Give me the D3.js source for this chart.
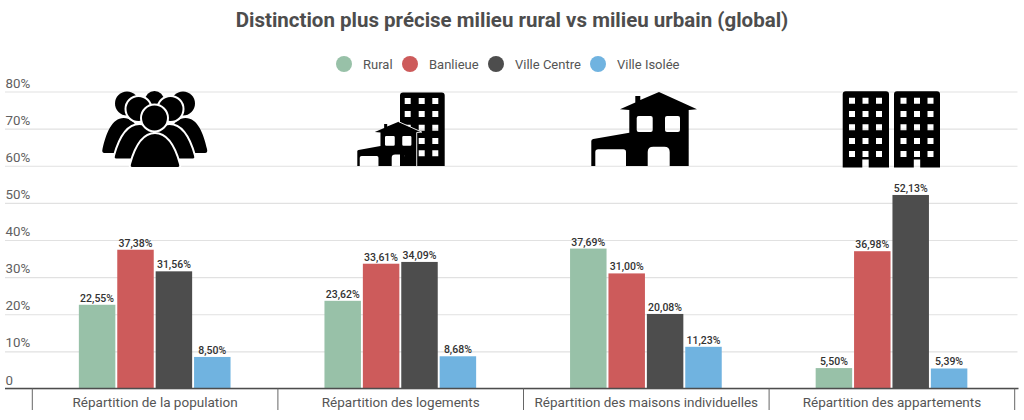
<!DOCTYPE html>
<html lang="fr">
<head>
<meta charset="utf-8">
<script src="https://cdn.jsdelivr.net/npm/d3@7/dist/d3.min.js"></script>
<style>
html,body{margin:0;padding:0;background:#fff}
svg{display:block}
text{font-family:Roboto,sans-serif}
</style>
</head>
<body>
<svg id="chart" width="1024" height="420"></svg>
<script>
const titleText = "Distinction plus précise milieu rural vs milieu urbain (global)";
const categories = ["Répartition de la population","Répartition des logements","Répartition des maisons individuelles","Répartition des appartements"];
const seriesNames = ["Rural","Banlieue","Ville Centre","Ville Isolée"];
const seriesColors = ["#98c1a8","#cd5b5b","#4d4d4d","#70b3e0"];
const rural = [22.55,23.62,37.69,5.50];
const banlieue = [37.38,33.61,31.00,36.98];
const villeCentre = [31.56,34.09,20.08,52.13];
const villeIsolee = [8.50,8.68,11.23,5.39];
const allSeries = [rural,banlieue,villeCentre,villeIsolee];
const yTicks = [0,10,20,30,40,50,60,70,80];

const svg = d3.select("#chart");
const left = 5, right = 1017.5, bandL = 32.3, bandR = 1014.7;
const y = d3.scaleLinear().domain([0,80]).range([388.5,91.5]);
const x0 = d3.scaleBand().domain(categories).range([bandL,bandR]);
const x1 = d3.scaleBand().domain(seriesNames).range([0,153.6]).paddingInner(0.05).paddingOuter(0.025);
const groupOffset = (x0.bandwidth()-x1.range()[1])/2 - 0.4;
const fr = n => n.toFixed(2).replace(".",",")+"%";

// title
svg.append("text").attr("x",512).attr("y",27).attr("text-anchor","middle")
  .attr("font-size",20.5).attr("font-weight",700).attr("fill","#4d4d4d").text(titleText);

// legend
const legendCx = [344,410,496,598], legendTx = [363,429,515,617];
const lg = svg.append("g").selectAll("g").data(seriesNames).join("g");
lg.append("circle").attr("cx",(d,i)=>legendCx[i]).attr("cy",64).attr("r",8).attr("fill",(d,i)=>seriesColors[i]);
lg.append("text").attr("x",(d,i)=>legendTx[i]).attr("y",68.5).attr("font-size",13).attr("fill","#555").text(d=>d);

// y axis + grid
const yAxis = d3.axisLeft(y).tickValues(yTicks).tickSize(-(right-left)).tickFormat(d=>d===0?"0":d+"%");
const yg = svg.append("g").attr("transform",`translate(${left},0)`).call(yAxis);
yg.select(".domain").remove();
yg.selectAll(".tick line").attr("stroke","#e1e1e1").attr("stroke-width",1.2);
yg.selectAll(".tick text").attr("x",0.5).attr("dy",0).attr("y",-4.5).attr("text-anchor","start")
  .attr("font-size",13.3).attr("font-family","Roboto,sans-serif").attr("fill","#606060");

// icons (decorative pictograms)
const icons = svg.append("g").attr("class","icons");
function person(g,cx,cy,r,bx0,bx1,bTop,bBot,sw){
  const m=(bx0+bx1)/2,w=bx1-bx0;
  g.append("path").attr("d",`M${bx0+1},${bBot-4} C${bx0+w*.1},${bTop+(bBot-bTop)*.45} ${m-w*.27},${bTop} ${m},${bTop} C${m+w*.27},${bTop} ${bx1-w*.1},${bTop+(bBot-bTop)*.45} ${bx1-1},${bBot-4} Q${bx1},${bBot} ${bx1-3},${bBot} L${bx0+3},${bBot} Q${bx0},${bBot} ${bx0+1},${bBot-4} Z`)
   .attr("fill","#000").attr("stroke","#fff").attr("stroke-width",sw);
  g.append("circle").attr("cx",cx).attr("cy",cy).attr("r",r).attr("fill","#000").attr("stroke","#fff").attr("stroke-width",sw);
}
const ppl = icons.append("g");
ppl.append("circle").attr("cx",154.5).attr("cy",100.5).attr("r",9.5).attr("fill","#000");
person(ppl,127,103.5,12,101.5,146,118,153,0);
person(ppl,183,103.5,12,163,208,118,153,0);
person(ppl,138.5,109,13,113,166,124,159.5,2);
person(ppl,170.5,109,13,143,196,124,159.5,2);
person(ppl,154.5,118,13.5,129,181,133,168,2);

const houseOutline = "M67.7,0 L105.7,17.3 L97.4,18 L97.4,74 L78.4,74 L78.4,60 Q78.4,54.7 73,54.7 L62,54.7 Q56.4,54.7 56.4,60 L56.4,74 L34.7,74 L34.7,60 Q34.7,57.3 32,57.3 L7,57.3 Q4,57.3 4,60 L4,74 L0,74 L0,49 Q0,47.5 2,47 L38,40.7 L38,18 L28.7,17.3 L44,10.5 L44,4 L49,4 L49,8 Z ";
const houseWindows = "M47.4,24 h12 q2,0 2,2 v12 q0,2 -2,2 h-12 q-2,0 -2,-2 v-12 q0,-2 2,-2 Z M75.7,24 h11 q2,0 2,2 v12 q0,2 -2,2 h-11 q-2,0 -2,-2 v-12 q0,-2 2,-2 Z";
function tower(g,x0t,x1t,yT,yB,cols,rows,door,doorCol){
  let d=`M${x0t+3},${yT} H${x1t-3} Q${x1t},${yT} ${x1t},${yT+3} V${yB} H${x0t} V${yT+3} Q${x0t},${yT} ${x0t+3},${yT} Z `;
  rows.forEach(r=>cols.forEach(c=>{ d+=`M${c-3},${r-3} h6 v6 h-6 Z `; }));
  if(door) d+=`M${doorCol-3.2},${yB} V${door} h6.4 V${yB} Z `;
  g.append("path").attr("d",d).attr("fill","#000").attr("fill-rule","evenodd");
}
// tower + small house
const tg = icons.append("g");
tower(tg,400,444.7,92.5,166,[407.7,421.7,435.3],[101,114,127.7,141,153.3]);
const smallHouse = tg.append("g").attr("transform","translate(357.3,121.7) scale(0.61,0.6)");
smallHouse.append("path").attr("d",houseOutline).attr("fill","#000");
smallHouse.append("path").attr("d",houseWindows).attr("fill","#fff");
smallHouse.append("path").attr("d","M67.7,0 L105.7,17.3 L97.4,18 L97.4,74").attr("fill","none")
  .attr("stroke","#fff").attr("stroke-width",1.5);
// big house
icons.append("path").attr("d",houseOutline+houseWindows).attr("transform","translate(591.3,92)")
  .attr("fill","#000").attr("fill-rule","evenodd");
// apartments
const ag = icons.append("g");
tower(ag,842.7,889,91.3,167.5,[852,865.5,879],[100.7,114,127.3,141,154],159.5,865.5);
tower(ag,894,940,91.3,167.5,[903.5,917,930.5],[100.7,114,127.3,141,154],159.5,917);

// bars
const groups = svg.append("g").selectAll("g").data(categories).join("g")
  .attr("transform",d=>`translate(${x0(d)+groupOffset},0)`);
groups.selectAll("rect").data((d,i)=>seriesNames.map((s,k)=>({s,k,v:allSeries[k][i]}))).join("rect")
  .attr("x",d=>x1(d.s)).attr("width",x1.bandwidth())
  .attr("y",d=>y(d.v)).attr("height",d=>y(0)-y(d.v)).attr("fill",d=>seriesColors[d.k]);
groups.selectAll("text").data((d,i)=>seriesNames.map((s,k)=>({s,k,v:allSeries[k][i]}))).join("text")
  .attr("x",d=>x1(d.s)+x1.bandwidth()/2).attr("y",d=>y(d.v)-3).attr("text-anchor","middle")
  .attr("font-size",10.5).attr("font-weight",500).attr("fill","#333").text(d=>fr(d.v));

// x axis
const xAxis = d3.axisBottom(x0).tickSize(0).tickPadding(0);
const xg = svg.append("g").attr("transform",`translate(0,${y(0)})`).call(xAxis);
xg.select(".domain").remove();
xg.selectAll(".tick text").attr("y",18).attr("dy",0).attr("font-size",13.5).attr("font-weight",400)
  .attr("font-family","Roboto,sans-serif").attr("fill","#555");
svg.append("line").attr("x1",left).attr("x2",right+1).attr("y1",y(0)).attr("y2",y(0)).attr("stroke","#4d4d4d").attr("stroke-width",1.6);
svg.append("g").selectAll("line").data([...categories.map(c=>x0(c)),bandR]).join("line")
  .attr("x1",d=>d).attr("x2",d=>d).attr("y1",y(0)).attr("y2",410).attr("stroke","#666").attr("stroke-width",1);
</script>
</body>
</html>
